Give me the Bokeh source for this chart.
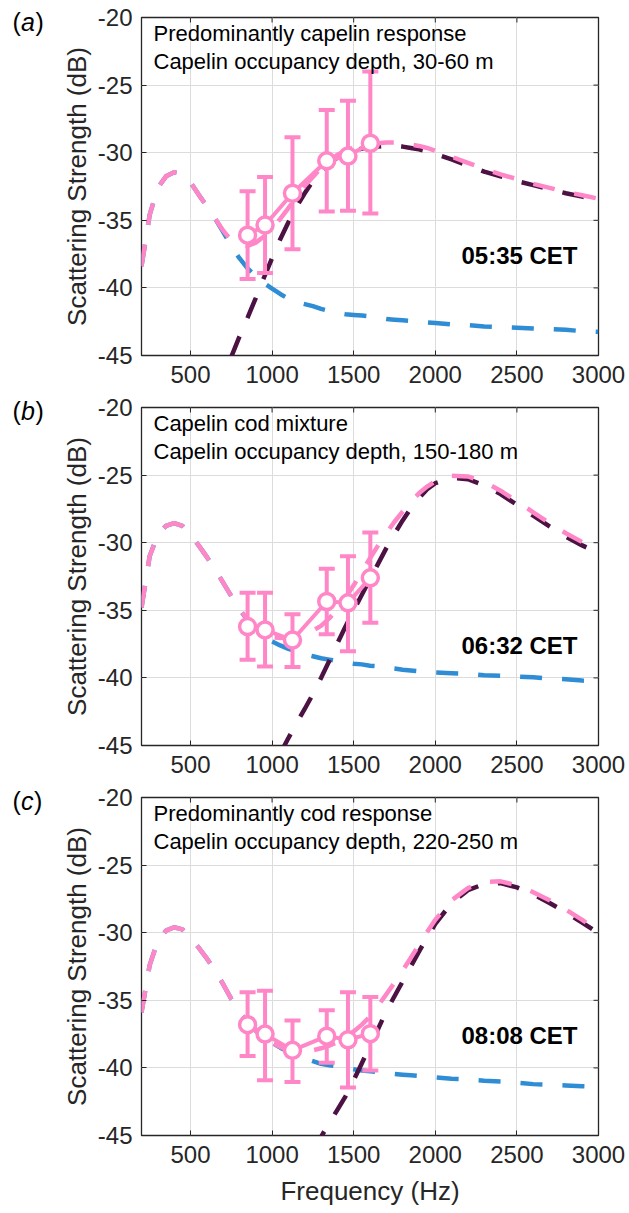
from math import pi

from bokeh.plotting import figure
from bokeh.layouts import column, row
from bokeh.models import FixedTicker, Label
from bokeh.core.properties import value
from bokeh.embed import file_html
from bokeh.resources import INLINE

FONT = "Liberation Sans"
PINK = "#FF87C7"
BLUE = "#2E8DD4"
PURPLE = "#4C1243"
INK = "#262626"
GRID = "#DCDCDC"

X_RANGE = (200, 3000)
Y_RANGE = (-45, -20)
X_TICKS = [500, 1000, 1500, 2000, 2500, 3000]
Y_TICKS = [-45, -40, -35, -30, -25, -20]

# Model frequency grid (Hz)
MODEL_FREQ = [200, 250, 300, 350, 400, 450, 500, 550, 600, 650, 700, 750, 800, 850,
              900, 950, 1000, 1050, 1100, 1150, 1200, 1250, 1300, 1350, 1400, 1450,
              1500, 1550, 1600, 1650, 1700, 1750, 1800, 1850, 1900, 1950, 2000,
              2100, 2200, 2300, 2400, 2500, 2600, 2700, 2800, 2900, 3000]

# Measured scattering strength (dB) with error limits
OBS_FREQ = [850, 957, 1125, 1335, 1465, 1602]

OBS_A = [-36.1, -35.35, -33.0, -30.6, -30.25, -29.3]
HI_A = [-32.85, -31.8, -28.85, -26.85, -26.15, -24.0]
LO_A = [-39.35, -38.9, -37.15, -34.35, -34.3, -34.5]

OBS_B = [-36.2, -36.45, -37.2, -34.35, -34.45, -32.6]
HI_B = [-33.7, -33.7, -35.3, -31.93, -31.0, -29.25]
LO_B = [-38.65, -39.15, -39.2, -36.77, -38.03, -35.93]

OBS_C = [-36.8, -37.5, -38.7, -37.65, -37.92, -37.47]
HI_C = [-34.4, -34.3, -36.5, -35.73, -34.4, -34.75]
LO_C = [-39.12, -40.92, -41.05, -39.62, -41.45, -40.2]

# Cod model (blue)
COD_A = [-38.4, -34.6, -32.6, -31.75, -31.45, -31.6, -32.2, -33.1, -33.95, -34.85,
         -35.85, -36.9, -37.8, -38.55, -39.15, -39.65, -40.05, -40.45, -40.8, -41.05,
         -41.2, -41.35, -41.55, -41.7, -41.85, -41.95, -42.0, -42.05, -42.1, -42.2,
         -42.3, -42.35, -42.4, -42.45, -42.5, -42.55, -42.6,
         -42.7, -42.75, -42.85, -42.9, -42.95, -43.0, -43.05, -43.1, -43.2, -43.25]
COD_B = [-34.8, -31.0, -29.4, -28.75, -28.55, -28.75, -29.4, -30.2, -31.05, -31.95,
         -32.95, -33.95, -34.9, -35.75, -36.4, -36.9, -37.3, -37.6, -37.85, -38.05,
         -38.25, -38.4, -38.55, -38.65, -38.75, -38.85, -38.95, -39.0, -39.1, -39.15,
         -39.25, -39.3, -39.4, -39.45, -39.5, -39.55, -39.6,
         -39.65, -39.7, -39.8, -39.85, -39.9, -39.95, -40.05, -40.1, -40.2, -40.25]
COD_C = [-35.9, -32.4, -30.6, -29.85, -29.6, -29.75, -30.35, -31.1, -31.9, -32.8,
         -33.8, -34.9, -35.85, -36.6, -37.25, -37.75, -38.15, -38.5, -38.8, -39.05,
         -39.3, -39.5, -39.7, -39.8, -39.9, -40.0, -40.1, -40.2, -40.25, -40.3,
         -40.35, -40.45, -40.5, -40.55, -40.6, -40.65, -40.7,
         -40.8, -40.85, -40.95, -41.0, -41.1, -41.2, -41.25, -41.3, -41.35, -41.4]

# Combined model (pink dashed)
TOTAL_A = [-38.4, -34.6, -32.6, -31.75, -31.45, -31.6, -32.2, -33.1, -33.95, -34.85,
           -35.75, -36.5, -36.85, -36.9, -36.65, -36.2, -35.6, -34.9, -34.1, -33.25,
           -32.45, -31.8, -31.1, -30.6, -30.15, -29.85, -29.6, -29.45, -29.35, -29.3,
           -29.25, -29.25, -29.3, -29.4, -29.5, -29.65, -29.85,
           -30.3, -30.75, -31.2, -31.6, -31.95, -32.3, -32.6, -32.9, -33.15, -33.4]
TOTAL_B = [-34.8, -31.0, -29.4, -28.75, -28.55, -28.75, -29.4, -30.2, -31.05, -31.95,
           -32.95, -33.95, -34.9, -35.7, -36.3, -36.75, -37.0, -37.05, -37.0, -36.9,
           -36.75, -36.5, -36.15, -35.6, -34.9, -34.05, -33.15, -32.15, -31.15, -30.2,
           -29.3, -28.45, -27.7, -27.0, -26.35, -25.85, -25.45,
           -25.05, -25.1, -25.5, -26.15, -26.95, -27.75, -28.55, -29.3, -29.95, -30.5]
TOTAL_C = [-35.9, -32.4, -30.6, -29.85, -29.6, -29.75, -30.35, -31.1, -31.9, -32.8,
           -33.8, -34.9, -35.85, -36.6, -37.25, -37.75, -38.15, -38.45, -38.7, -38.8,
           -38.8, -38.7, -38.55, -38.35, -38.1, -37.75, -37.3, -36.8, -36.2, -35.4,
           -34.55, -33.7, -32.8, -31.85, -30.9, -29.95, -29.05,
           -27.6, -26.7, -26.25, -26.2, -26.5, -27.0, -27.6, -28.3, -29.05, -29.9]

# Capelin model (dark purple)
CAPELIN_FREQ_A = [750, 800, 850, 900, 950, 1000, 1050, 1100, 1150, 1200, 1250, 1300,
                  1350, 1400, 1450, 1500, 1550, 1600, 1650, 1700, 1750, 1800, 1850,
                  1900, 1950, 2000, 2100, 2200, 2300, 2400, 2500, 2600, 2700, 2800,
                  2900, 3000]
CAPELIN_A = [-45.1, -43.6, -42.2, -40.75, -39.25, -37.8, -36.4, -35.15, -34.0, -33.0,
             -32.1, -31.35, -30.8, -30.35, -30.05, -29.85, -29.7, -29.6, -29.55, -29.5,
             -29.5, -29.55, -29.65, -29.75, -29.9, -30.1, -30.5, -30.95, -31.4, -31.75,
             -32.1, -32.4, -32.7, -33.0, -33.25, -33.5]
CAPELIN_FREQ_B = [1050, 1100, 1150, 1200, 1250, 1300, 1350, 1400, 1450, 1500, 1550,
                  1600, 1650, 1700, 1750, 1800, 1850, 1900, 1950, 2000, 2100, 2200,
                  2300, 2400, 2500, 2600, 2700, 2800, 2900, 3000]
CAPELIN_B = [-45.6, -44.45, -43.35, -42.3, -41.2, -40.0, -38.75, -37.45, -36.2, -35.0,
             -33.85, -32.7, -31.55, -30.4, -29.35, -28.35, -27.45, -26.7, -26.05, -25.6,
             -25.2, -25.3, -25.75, -26.4, -27.2, -28.0, -28.8, -29.55, -30.2, -30.75]
CAPELIN_FREQ_C = [1250, 1300, 1350, 1400, 1450, 1500, 1550, 1600, 1650, 1700, 1750,
                  1800, 1850, 1900, 1950, 2000, 2100, 2200, 2300, 2400, 2500, 2600,
                  2700, 2800, 2900, 3000]
CAPELIN_C = [-46.1, -45.1, -44.1, -43.1, -42.1, -40.9, -39.65, -38.4, -37.1, -35.8,
             -34.7, -33.6, -32.5, -31.4, -30.35, -29.35, -27.8, -26.85, -26.4, -26.33,
             -26.65, -27.15, -27.8, -28.5, -29.25, -30.05]

PANEL_TAGS = ["a", "b", "c"]
NOTE_LINE1 = ["Predominantly capelin response", "Capelin cod mixture",
              "Predominantly cod response"]
NOTE_LINE2 = ["Capelin occupancy depth, 30-60 m", "Capelin occupancy depth, 150-180 m",
              "Capelin occupancy depth, 220-250 m"]
CLOCK = ["05:35 CET", "06:32 CET", "08:08 CET"]

DASH = "22 20"
TAG_W = 45
FRAME_W, FRAME_H = 457, 338


def panel(note1, note2, clock, cod, total, cap_f, cap, obs, hi, lo,
          top, bottom, xlabel):
    p = figure(frame_width=FRAME_W, frame_height=FRAME_H,
               x_range=X_RANGE, y_range=Y_RANGE,
               min_border_left=141 - TAG_W, min_border_right=31,
               min_border_top=top, min_border_bottom=bottom,
               output_backend="svg", toolbar_location=None,
               background_fill_color="white", border_fill_color="white")
    p.outline_line_color = INK
    p.outline_line_width = 1.3
    p.outline_line_alpha = 1.0

    for ax, ticks in ((p.xaxis, X_TICKS), (p.yaxis, Y_TICKS)):
        ax.ticker = FixedTicker(ticks=ticks)
        ax.major_label_overrides = {t: str(t) for t in ticks}
        ax.major_label_text_font = FONT
        ax.major_label_text_font_size = "24px"
        ax.major_label_text_color = INK
        ax.major_tick_in = 5
        ax.major_tick_out = 0
        ax.major_tick_line_color = INK
        ax.minor_tick_line_color = None
        ax.axis_line_color = None
        ax.axis_label_text_font = FONT
        ax.axis_label_text_font_size = "26px"
        ax.axis_label_text_font_style = "normal"
        ax.axis_label_text_color = INK
    p.xaxis.major_label_standoff = 10
    p.yaxis.major_label_standoff = 9
    p.yaxis.axis_label = "Scattering Strength (dB)"
    p.yaxis.axis_label_standoff = 3
    if xlabel:
        p.xaxis.axis_label = "Frequency (Hz)"
        p.xaxis.axis_label_standoff = 10

    # inward ticks along the top and right edges of the box
    p.ray(x=X_TICKS, y=[Y_RANGE[1]] * len(X_TICKS), length=5, length_units="screen",
          angle=-pi / 2, line_color=INK, line_width=1)
    p.ray(x=[X_RANGE[1]] * len(Y_TICKS), y=Y_TICKS, length=5, length_units="screen",
          angle=pi, line_color=INK, line_width=1)

    p.xgrid.grid_line_color = GRID
    p.ygrid.grid_line_color = GRID

    # model curves
    p.line(MODEL_FREQ, cod, line_color=BLUE, line_width=4.5, line_dash=DASH)
    p.line(cap_f, cap, line_color=PURPLE, line_width=4.5, line_dash=DASH)
    p.line(MODEL_FREQ, total, line_color=PINK, line_width=4.5, line_dash=DASH)

    # measurements with error bars
    p.segment(x0=OBS_FREQ, y0=lo, x1=OBS_FREQ, y1=hi, line_color=PINK, line_width=4)
    p.scatter(OBS_FREQ, hi, marker="dash", size=16, line_color=PINK, line_width=4)
    p.scatter(OBS_FREQ, lo, marker="dash", size=16, line_color=PINK, line_width=4)
    p.line(OBS_FREQ, obs, line_color=PINK, line_width=4)
    p.scatter(OBS_FREQ, obs, marker="circle", size=16, fill_color="white",
              line_color=PINK, line_width=3.5)

    for txt, dy in ((note1, -16), (note2, -44)):
        p.add_layout(Label(x=X_RANGE[0], y=Y_RANGE[1], x_offset=12, y_offset=dy,
                           text=txt, text_font=FONT, text_font_size="22px",
                           text_color="black", text_align="left",
                           text_baseline="middle"))

    p.add_layout(Label(x=X_RANGE[1], y=Y_RANGE[1], x_offset=-21, y_offset=-238,
                       text=clock, text_font=FONT, text_font_size="24px",
                       text_font_style="bold", text_color="black",
                       text_align="right", text_baseline="middle"))
    return p


pa = panel(NOTE_LINE1[0], NOTE_LINE2[0], CLOCK[0], COD_A, TOTAL_A,
           CAPELIN_FREQ_A, CAPELIN_A, OBS_A, HI_A, LO_A, 17, 37, False)
pb = panel(NOTE_LINE1[1], NOTE_LINE2[1], CLOCK[1], COD_B, TOTAL_B,
           CAPELIN_FREQ_B, CAPELIN_B, OBS_B, HI_B, LO_B, 15, 37, False)
pc = panel(NOTE_LINE1[2], NOTE_LINE2[2], CLOCK[2], COD_C, TOTAL_C,
           CAPELIN_FREQ_C, CAPELIN_C, OBS_C, HI_C, LO_C, 15, 78, True)

# narrow strip on the left carrying the panel tags "(a)", "(b)", "(c)"
TOTAL_H = 1213
tags = figure(width=TAG_W, height=TOTAL_H, x_range=(0, TAG_W), y_range=(TOTAL_H, 0),
              min_border=0, output_backend="svg", toolbar_location=None,
              background_fill_color="white", border_fill_color="white")
tags.axis.visible = False
tags.grid.visible = False
tags.outline_line_color = None
tag_y = [21, 410, 800]
letter_w = {"a": 13.9, "b": 13.9, "c": 12.5}
for tag, ty in zip(PANEL_TAGS, tag_y):
    common = dict(text_font=value(FONT), text_font_size="25px", text_color="black",
                  text_align="left", text_baseline="middle")
    tags.text(x=[12], y=[ty], text=["("], **common)
    tags.text(x=[20.5], y=[ty], text=[tag], text_font_style="italic", **common)
    tags.text(x=[21.1 + letter_w[tag]], y=[ty], text=[")"], **common)

layout = row(tags, column(pa, pb, pc))
open("out.html", "w").write(file_html(layout, INLINE))
